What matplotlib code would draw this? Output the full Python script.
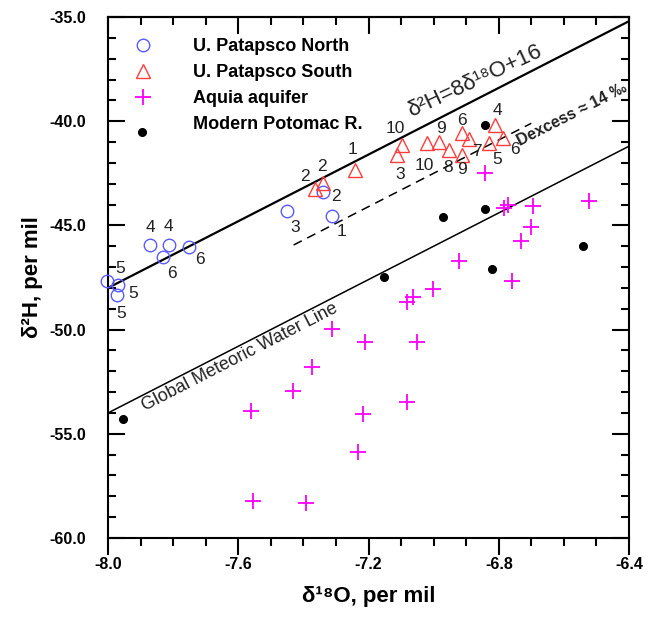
import numpy as np
import matplotlib.pyplot as plt
from matplotlib.ticker import MultipleLocator, FormatStrFormatter
from matplotlib.lines import Line2D

plt.rcParams['font.family'] = ['Liberation Sans', 'DejaVu Sans']

# U. Patapsco North (blue circles)
north_x = [-8.004, -7.968, -7.971, -7.871, -7.813, -7.832, -7.751, -7.451, -7.339, -7.311]
north_y = [-47.67, -47.86, -48.34, -45.94, -45.94, -46.53, -46.02, -44.31, -43.41, -44.53]
north_lbl = ['5', '5', '5', '4', '4', '6', '6', '3', '2', '1']

# U. Patapsco South (red triangles)
south_x = [-7.364, -7.341, -7.241, -7.098, -7.113, -7.021, -6.983, -6.952, -6.914, -6.890,
           -6.914, -6.829, -6.811, -6.788]
south_y = [-43.27, -42.98, -42.34, -41.14, -41.62, -41.06, -40.98, -41.38, -40.58, -40.87,
           -41.62, -41.03, -40.18, -40.82]
south_lbl = ['2', '2', '1', '10', '3', '10', '9', '8', '6', '7', '9', '5', '4', '6']

# Aquia aquifer (magenta plus)
aquia_x = [-6.842, -6.784, -6.771, -6.694, -6.522, -6.702, -6.732, -6.922, -6.760, -7.003,
           -7.062, -7.083, -7.052, -7.083, -7.561, -7.431, -7.216, -7.231, -7.554, -7.392,
           -7.313, -7.211, -7.373]
aquia_y = [-42.50, -44.18, -44.02, -44.07, -43.81, -45.09, -45.73, -46.71, -47.65, -48.05,
           -48.45, -48.66, -50.58, -53.46, -53.91, -52.95, -54.06, -55.89, -58.21, -58.31,
           -49.99, -50.58, -51.81]

# Modern Potomac R. (black dots)
potomac_x = [-7.897, -7.953, -6.842, -7.152, -6.972, -6.842, -6.822, -6.542]
potomac_y = [-40.50, -54.30, -40.18, -47.49, -44.61, -44.21, -47.09, -45.99]

# lines: dH = 8 dO + excess
lmwl_excess = 16
gmwl_excess = 10
dash_excess = 13.5
dash_range = [-7.43, -6.70]

# label offsets (pixels, right / down)
north_off = [(13, -13), (15, 8), (4, 18), (0, -17), (0, -18), (9, 16), (11, 13), (8, 16), (13, 4), (9, 16)]
south_off = [(-10, -13), (-1, -17), (-3, -20), (-6, -16), (3, 20), (-2, 22), (2, -13), (-1, 18),
             (0, -13), (7, 12), (0, 15), (8, 17), (2, -14), (12, 11)]


def labelPoints(ax, xs, ys, lbls, offs):
    for x, y, s, (dx, dy) in zip(xs, ys, lbls, offs):
        ax.annotate(s, (x, y), xytext=(dx * 0.72, -dy * 0.72), textcoords='offset points',
                    ha='center', va='center', fontsize=12.5, color='#222222',
                    annotation_clip=False)


fig = plt.figure(figsize=(6.49, 6.22), dpi=100)
ax = fig.add_axes([108 / 649, 84 / 622, 521 / 649, 521 / 622])
ax.set_xlim(-8.0, -6.4)
ax.set_ylim(-60.0, -35.0)

xx = np.array([-8.0, -6.4])
ax.plot(xx, 8 * xx + lmwl_excess, color='black', lw=1.6, zorder=2)
ax.plot(xx, 8 * xx + gmwl_excess, color='black', lw=1.1, zorder=2)
dx = np.array(dash_range)
ax.plot(dx, 8 * dx + dash_excess, color='black', lw=1.1, dashes=(6, 4), zorder=2)

ax.plot(north_x, north_y, 'o', ms=9, mfc='none', mec='#5a5aff', mew=1.0, zorder=3, clip_on=False)
ax.plot(south_x, south_y, '^', ms=10, mfc='none', mec='#ff3c3c', mew=1.0, zorder=3, clip_on=False)
ax.plot(aquia_x, aquia_y, '+', ms=12, color='#ff00ff', mew=1.3, zorder=3, clip_on=False)
ax.plot(potomac_x, potomac_y, 'o', ms=5.5, color='black', zorder=3, clip_on=False)

labelPoints(ax, north_x, north_y, north_lbl, north_off)
labelPoints(ax, south_x, south_y, south_lbl, south_off)

ax.text(-7.07, 8 * -7.07 + lmwl_excess + 0.75, 'δ²H=8δ¹⁸O+16', fontsize=16, rotation=25,
        rotation_mode='anchor', ha='left', va='baseline', color='#222222')
ax.text(-7.886, 8 * -7.886 + gmwl_excess - 0.8, 'Global Meteoric Water Line', fontsize=13,
        rotation=27.2, rotation_mode='anchor', ha='left', va='baseline', color='#222222')
ax.text(-6.735, -41.2, 'Dexcess ≈ 14 ‰', fontsize=11.5, fontweight='bold', rotation=27,
        rotation_mode='anchor', ha='left', va='baseline', color='#222222')

handles = [Line2D([], [], ls='none', marker='o', ms=9, mfc='none', mec='#5a5aff'),
           Line2D([], [], ls='none', marker='^', ms=10, mfc='none', mec='#ff3c3c'),
           Line2D([], [], ls='none', marker='+', ms=12, color='#ff00ff', mew=1.3),
           Line2D([], [], ls='none', marker=None)]
labels = ['U. Patapsco North', 'U. Patapsco South', 'Aquia aquifer', 'Modern Potomac R.']
ax.legend(handles, labels, loc='upper left', bbox_to_anchor=(0.052, 0.96), frameon=False,
          borderpad=0, borderaxespad=0, handlelength=0.9, handletextpad=2.3,
          labelspacing=0.5, prop={'weight': 'bold', 'size': 13})

ax.xaxis.set_major_locator(MultipleLocator(0.4))
ax.xaxis.set_minor_locator(MultipleLocator(0.1))
ax.yaxis.set_major_locator(MultipleLocator(5))
ax.yaxis.set_minor_locator(MultipleLocator(1))
ax.xaxis.set_major_formatter(FormatStrFormatter('%.1f'))
ax.yaxis.set_major_formatter(FormatStrFormatter('%.1f'))

ax.tick_params(axis='x', which='both', direction='out', top=False, width=1.5, labelsize=11.5, pad=2)
ax.tick_params(axis='y', which='both', direction='in', left=True, right=True, width=1.5,
               labelsize=11.5, pad=16)
ax.tick_params(which='major', length=12)
ax.tick_params(which='minor', length=6)
for lab in ax.get_xticklabels() + ax.get_yticklabels():
    lab.set_fontweight('bold')

top = ax.secondary_xaxis('top')
top.xaxis.set_major_locator(MultipleLocator(0.4))
top.xaxis.set_minor_locator(MultipleLocator(0.1))
top.tick_params(which='both', direction='in', labeltop=False, width=1.5)
top.tick_params(which='major', length=12)
top.tick_params(which='minor', length=6)
top.spines['top'].set_linewidth(1.5)

for sp in ax.spines.values():
    sp.set_linewidth(1.5)

ax.set_xlabel('δ¹⁸O, per mil', fontsize=16, fontweight='bold', labelpad=10)
ax.set_ylabel('δ²H, per mil', fontsize=16, fontweight='bold', labelpad=4)

fig.savefig('out.png', dpi=100)
